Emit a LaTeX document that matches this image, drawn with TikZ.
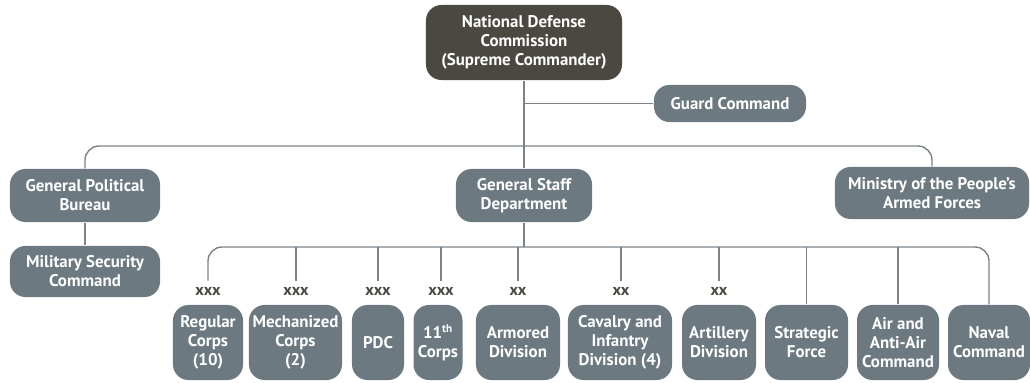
\documentclass[tikz,border=0pt]{standalone}
\usepackage{fontspec}
\setmainfont{PT Sans}
\usepackage{tikz}
\usetikzlibrary{positioning}

\definecolor{boxgray}{RGB}{108,121,128}
\definecolor{topdark}{RGB}{74,72,65}
\definecolor{linegray}{RGB}{122,131,137}

\begin{document}
\begin{tikzpicture}[x=0.025cm,y=-0.025cm,
  line width=1pt,
  org node/.style={rectangle,rounded corners=11pt,fill=boxgray,text=white,align=center,
    font=\bfseries\fontsize{12}{13.6}\selectfont,inner sep=1pt},
  top node/.style={org node,fill=topdark},
  echelon/.style={font=\bfseries\fontsize{11.5}{12}\selectfont,text=topdark,inner sep=1pt},
  link/.style={draw=linegray}]

  \useasboundingbox (0,0) rectangle (1030,382);

  % commission and staff
  \node[top node,minimum width=4.9cm,minimum height=1.875cm] (ndc) at (524,42.5) {National Defense\\Commission\\(Supreme Commander)};
  \node[org node,minimum width=3.8cm,minimum height=0.925cm] (guard) at (730,103.5) {Guard Command};
  \node[org node,minimum width=3.75cm,minimum height=1.325cm] (gpb) at (85,195.5) {General Political\\Bureau};
  \node[org node,minimum width=3.75cm,minimum height=1.275cm] (msc) at (85,271.5) {Military Security\\Command};
  \node[org node,minimum width=3.4cm,minimum height=1.325cm] (gsd) at (524,195.5) {General Staff\\Department};
  \node[org node,minimum width=4.85cm,minimum height=1.3cm] (mpaf) at (932,193) {Ministry of the People's\\Armed Forces};

  % units
  \node[org node,minimum width=1.75cm,minimum height=1.875cm] (regular) at (208,342.5) {Regular\\Corps\\(10)};
  \node[org node,minimum width=2.325cm,minimum height=1.875cm] (mech) at (295.5,342.5) {Mechanized\\Corps\\(2)};
  \node[org node,minimum width=1.3cm,minimum height=1.875cm] (pdc) at (378,342.5) {PDC};
  \node[org node,minimum width=1.225cm,minimum height=1.875cm] (corps11) at (438,342.5) {11\textsuperscript{th}\\Corps};
  \node[org node,minimum width=2.1cm,minimum height=1.875cm] (armored) at (518,342.5) {Armored\\Division};
  \node[org node,minimum width=2.6cm,minimum height=1.875cm] (cavalry) at (620,342.5) {Cavalry and\\Infantry\\Division (4)};
  \node[org node,minimum width=1.85cm,minimum height=1.875cm] (artillery) at (719,342.5) {Artillery\\Division};
  \node[org node,minimum width=2.075cm,minimum height=1.875cm] (strategic) at (806.5,342.5) {Strategic\\Force};
  \node[org node,minimum width=2.05cm,minimum height=1.875cm] (airdef) at (898,342.5) {Air and\\Anti-Air\\Command};
  \node[org node,minimum width=2.05cm,minimum height=1.875cm] (naval) at (989,342.5) {Naval\\Command};

  \node[echelon] (e1) at (208,291) {xxx};
  \node[echelon] (e2) at (296,291) {xxx};
  \node[echelon] (e3) at (378,291) {xxx};
  \node[echelon] (e4) at (441,291) {xxx};
  \node[echelon] (e5) at (518,291) {xx};
  \node[echelon] (e6) at (621,291) {xx};
  \node[echelon] (e7) at (719,291) {xx};

  \coordinate (bus1) at (524,146);
  \coordinate (bus2) at (524,247);

  % upper level
  \draw[link] (ndc.south) -- (bus1) -- (gsd.north);
  \draw[link] (ndc.south |- guard.west) -- (guard.west);
  \draw[link,rounded corners=10pt] (gpb.north) |- (bus1) -| (mpaf.north);
  \draw[link] (gpb.south) -- (msc.north);

  % lower level
  \draw[link] (gsd.south) -- (bus2);
  \draw[link,rounded corners=10pt] ([yshift=3pt]e1.north) |- (bus2) -| (naval.north);
  \path[link,shorten >=3pt]
    (bus2 -| e2) edge (e2.north)
    (bus2 -| e3) edge (e3.north)
    (bus2 -| e4) edge (e4.north)
    (bus2 -| e5) edge (e5.north)
    (bus2 -| e6) edge (e6.north)
    (bus2 -| e7) edge (e7.north);
  \path[link]
    (bus2 -| strategic) edge (strategic.north)
    (bus2 -| airdef) edge (airdef.north);

\end{tikzpicture}
\end{document}
